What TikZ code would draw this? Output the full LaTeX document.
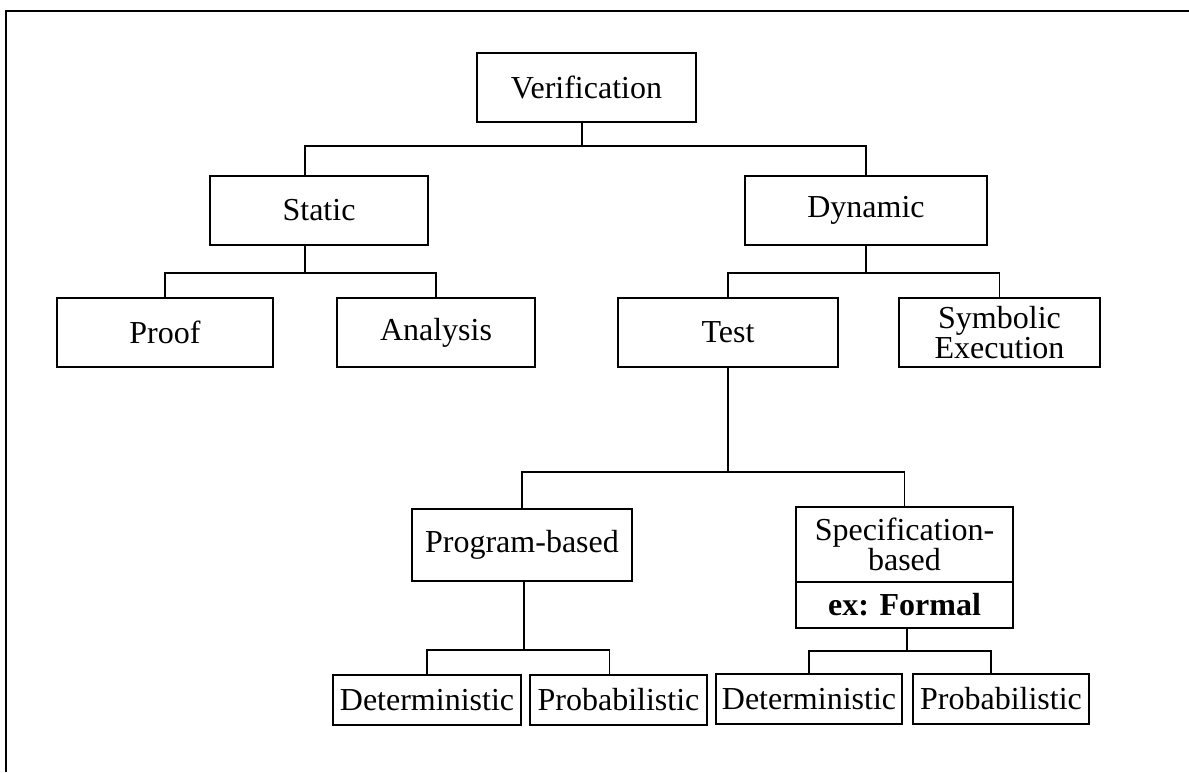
\documentclass[tikz,border=0pt]{standalone}
\usepackage{fontspec}
\setmainfont{Liberation Serif}
\usetikzlibrary{calc}
\begin{document}
\begin{tikzpicture}[x=1pt,y=-1pt,
  every node/.style={font=\fontsize{32}{30.5}\selectfont},
  box/.style={draw, line width=1.7pt, inner sep=0pt, align=center},
  link/.style={line width=1.7pt}]
\useasboundingbox (0,0) rectangle (1189,772);
% outer frame (top and left edges)
\draw[line width=2pt] (6,772) -- (6,11) -- (1189,11);

% boxes: centre, width, height
\node[box, minimum width=219pt, minimum height=69pt] (ver) at (586.5,87.5) {Verification};
\node[box, minimum width=218pt, minimum height=69pt] (sta) at (319,210.5) {Static};
\node[box, minimum width=242pt, minimum height=69pt] (dyn) at (866,210.5) {Dynamic};
\node[box, minimum width=216pt, minimum height=69pt] (prf) at (165,332.5) {Proof};
\node[box, minimum width=198pt, minimum height=69pt] (ana) at (436,332.5) {Analysis};
\node[box, minimum width=220pt, minimum height=69pt] (tst) at (728,332.5) {Test};
\node[box, minimum width=201pt, minimum height=69pt] (sym) at (999.5,332.5) {Symbolic\\Execution};
\node[box, minimum width=220pt, minimum height=72pt] (prg) at (522,545) {Program-based};
\node[box, minimum width=217pt, minimum height=75pt] (spa) at (904.5,544.5) {Specification-\\based};
\node[box, minimum width=217pt, minimum height=46pt, font=\fontsize{32}{30.5}\selectfont\bfseries] (spb) at (904.5,605) {ex: Formal};
\node[box, minimum width=188pt, minimum height=50pt] (det1) at (427,700) {Deterministic};
\node[box, minimum width=177pt, minimum height=50pt] (pro1) at (618.5,700) {Probabilistic};
\node[box, minimum width=186pt, minimum height=50pt] (det2) at (809,699) {Deterministic};
\node[box, minimum width=176pt, minimum height=50pt] (pro2) at (1001,699) {Probabilistic};

% tree connectors
\draw[link] ([xshift=-4.5pt]ver.south) -- ++(0,23) coordinate (j1);
\draw[link] ([xshift=-14pt]sta.north) |- (j1) -| (dyn.north);
\draw[link] ([xshift=-14pt]sta.south) -- ++(0,27) coordinate (j2);
\draw[link] (prf.north) |- (j2) -| (ana.north);
\draw[link] (dyn.south) -- ++(0,27) coordinate (j3);
\draw[link] (tst.north) |- (j3) -| (sym.north);
\draw[link] (tst.south) -- ++(0,104) coordinate (j4);
\draw[link] (prg.north) |- (j4) -| (spa.north);
\draw[link] ([xshift=2pt]prg.south) -- ++(0,68) coordinate (j5);
\draw[link] (det1.north) |- (j5) -| ([xshift=-9pt]pro1.north);
\draw[link] ([xshift=2.5pt]spb.south) -- ++(0,22) coordinate (j6);
\draw[link] (det2.north) |- (j6) -| ([xshift=-10pt]pro2.north);
\end{tikzpicture}
\end{document}
